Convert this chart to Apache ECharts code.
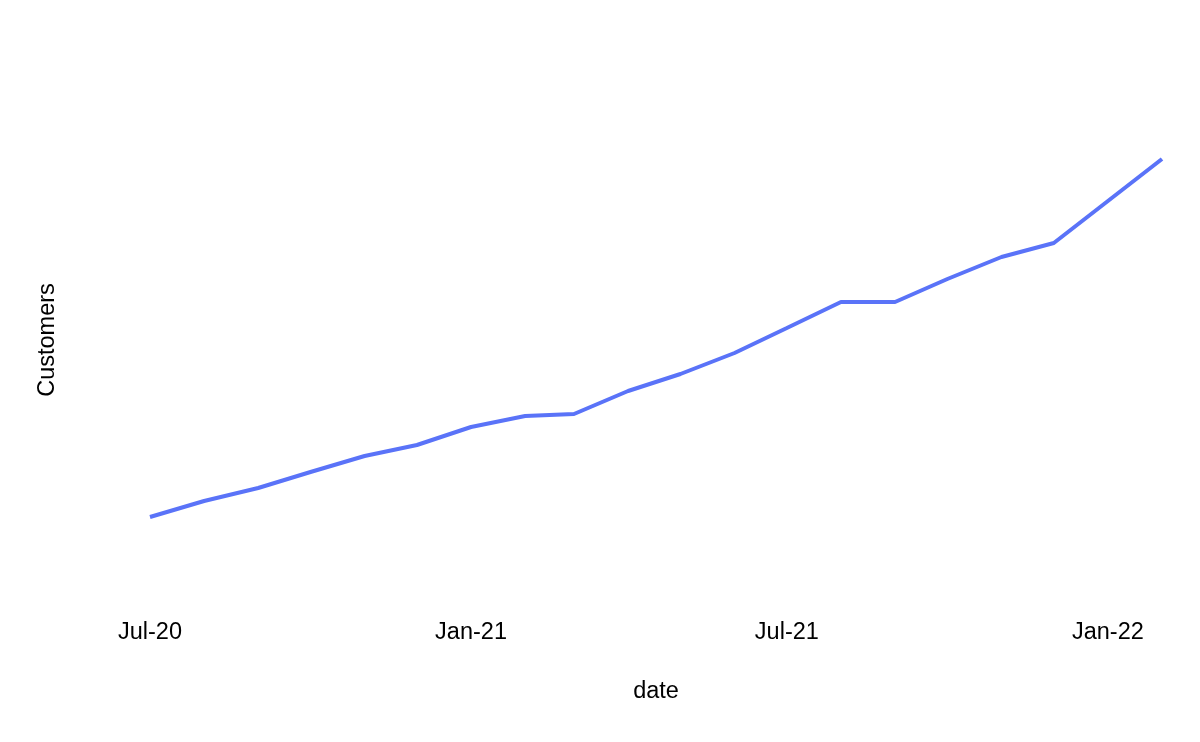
<!DOCTYPE html>
<html>
<head>
<meta charset="utf-8">
<script src="https://cdn.jsdelivr.net/npm/echarts@6/dist/echarts.min.js"></script>
<style>html,body{margin:0;padding:0;background:#fff}#c{width:1200px;height:742px}</style>
</head>
<body>
<div id="c"></div>
<script>
const dates = ['2020-07-01','2020-08-01','2020-09-01','2020-10-01','2020-11-01','2020-12-01',
  '2021-01-01','2021-02-01','2021-03-01','2021-04-01','2021-05-01','2021-06-01',
  '2021-07-01','2021-08-01','2021-09-01','2021-10-01','2021-11-01','2021-12-01',
  '2022-01-01','2022-02-01'];
const customers = [83, 99, 112, 128, 144, 155, 173, 184, 186, 209, 226, 247, 272, 298, 298, 321, 343, 357, 399, 441];
const tickDates = ['2020-07-01','2021-01-01','2021-07-01','2022-01-01'];
const tickLabels = ['Jul-20','Jan-21','Jul-21','Jan-22'];

const ts = s => { const p = s.split('-').map(Number); return Date.UTC(p[0], p[1]-1, p[2]); };
const tickTs = tickDates.map(ts);
const chart = echarts.init(document.getElementById('c'), null, {renderer:'canvas'});
const font = 'Liberation Sans, Arial, Helvetica, sans-serif';
chart.setOption({
  backgroundColor: '#ffffff',
  animation: false,
  grid: {left: 150, right: 38, top: 80, bottom: 142},
  xAxis: {
    type: 'value',
    min: ts(dates[0]),
    max: ts(dates[dates.length-1]),
    name: 'date',
    nameLocation: 'middle',
    nameGap: 80,
    nameTextStyle: {fontFamily: font, fontSize: 23.5, color: '#000'},
    axisLine: {show: false},
    axisTick: {show: false},
    splitLine: {show: false},
    axisLabel: {
      customValues: tickTs,
      margin: 21,
      fontFamily: font, fontSize: 23.5, color: '#000',
      formatter: v => { const i = tickTs.indexOf(v); return i >= 0 ? tickLabels[i] : ''; }
    }
  },
  yAxis: {
    type: 'value',
    min: 0, max: 520,
    name: 'Customers',
    nameLocation: 'middle',
    nameGap: 90,
    nameRotate: 90,
    nameTextStyle: {fontFamily: font, fontSize: 23.5, color: '#000'},
    axisLine: {show: false},
    axisTick: {show: false},
    axisLabel: {show: false},
    splitLine: {show: false}
  },
  series: [{
    type: 'line',
    data: dates.map((d, i) => [ts(d), customers[i]]),
    showSymbol: false,
    symbol: 'none',
    lineStyle: {color: '#5a73f8', width: 4},
    itemStyle: {color: '#5a73f8'}
  }]
});
</script>
</body>
</html>
